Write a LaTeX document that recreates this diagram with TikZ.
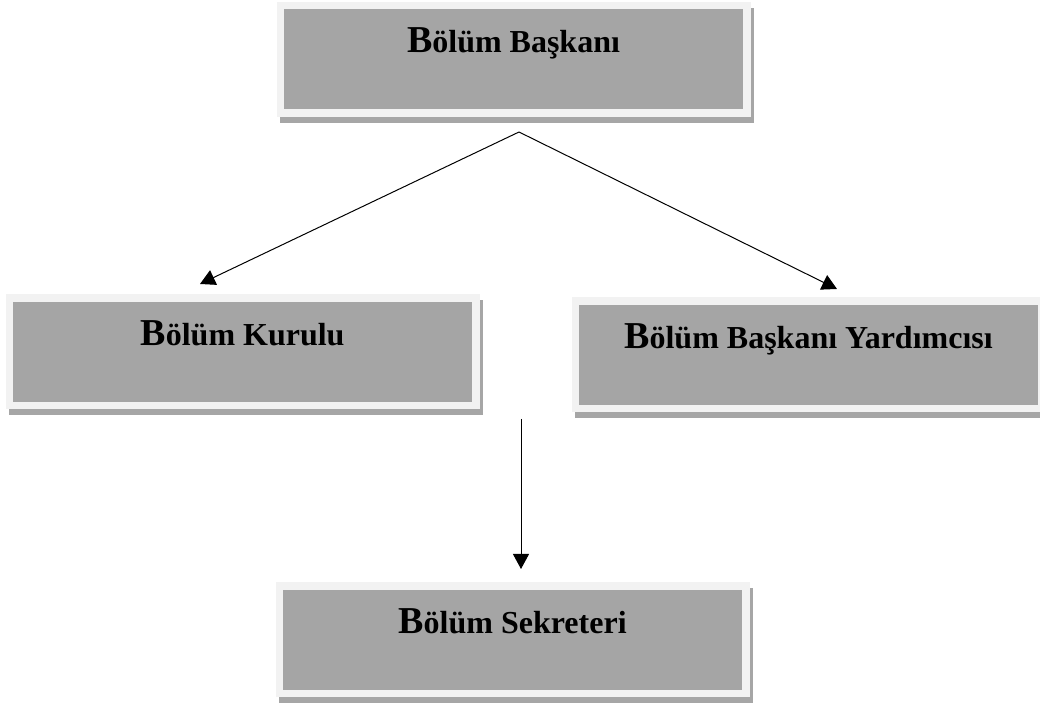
\documentclass[tikz,border=0pt]{standalone}
\usepackage{fontspec}
\setmainfont{Liberation Serif}
\usetikzlibrary{arrows.meta}
\definecolor{boxgray}{HTML}{A5A5A5}
\definecolor{framegray}{HTML}{F2F2F2}
\definecolor{shadowgray}{HTML}{A6A6A6}
\newcommand\firstB{{\fontsize{28.5}{30}\selectfont B}}
\begin{document}
\begin{tikzpicture}[x=0.75pt,y=-0.75pt,
  orgbox/.style={rectangle, inner sep=0pt, outer sep=0pt,
    minimum width=349.875pt, minimum height=80.625pt,
    fill=boxgray, draw=framegray, line width=5.625pt,
    preaction={fill=shadowgray, draw=shadowgray, line width=5.625pt,
      transform canvas={xshift=2.25pt,yshift=-4.5pt}}},
  orgtext/.style={anchor=base, inner sep=0pt, font=\fontsize{24}{28}\selectfont\bfseries},
  arr/.style={-{Triangle[length=11.25pt,width=12pt]}, line width=0.75pt}]
\useasboundingbox (0,0) rectangle (1040,705);
\fill[white] (0,0) rectangle (1040,705);

\node[orgbox] (bb) at (513.5,59.5) {};
\node[orgtext] (bbt) at ([yshift=4.875pt]bb.center) {\firstB ölüm Başkanı};

\node[orgbox] (kur) at (242.5,352) {};
\node[orgtext] (kurt) at ([yshift=4.875pt]kur.center) {\firstB ölüm Kurulu};

\node[orgbox] (yrd) at (808.5,355) {};
\node[orgtext] (yrdt) at ([yshift=4.875pt]yrd.center) {\firstB ölüm Başkanı Yardımcısı};

\node[orgbox] (sek) at (512.5,640) {};
\node[orgtext] (sekt) at ([yshift=4.875pt]sek.center) {\firstB ölüm Sekreteri};

\coordinate (apex) at (519,132);
\coordinate (kurtip) at (200,284);
\coordinate (yrdtip) at (837,289);
\coordinate (vtop) at (521,419);

\draw[arr] (apex) -- (kurtip);
\draw[arr] (apex) -- (yrdtip);
\draw[arr, shorten >=12.94pt] (vtop) -- (vtop |- sek.north);
\end{tikzpicture}
\end{document}
